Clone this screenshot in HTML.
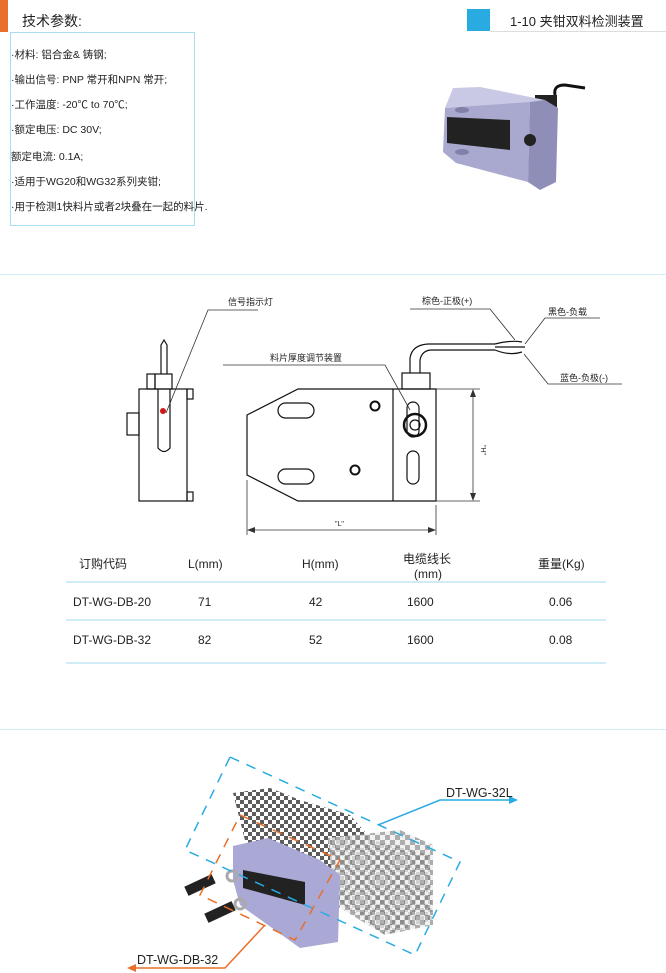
<!DOCTYPE html>
<html><head><meta charset="utf-8"><style>
html,body{margin:0;padding:0;background:#fff}
svg{display:block}
text{font-family:"Liberation Sans","Noto Sans CJK SC",sans-serif;fill:#222}
</style></head><body>
<svg width="666" height="973" viewBox="0 0 666 973" xmlns="http://www.w3.org/2000/svg">
<defs>
<pattern id="chk" width="8" height="8" patternUnits="userSpaceOnUse">
<rect width="8" height="8" fill="#fff"/><rect width="4" height="4" fill="#333"/><rect x="4" y="4" width="4" height="4" fill="#333"/>
</pattern>
<pattern id="chk2" width="10" height="10" patternUnits="userSpaceOnUse">
<rect width="10" height="10" fill="#eee"/><rect width="5" height="5" fill="#999"/><rect x="5" y="5" width="5" height="5" fill="#999"/>
</pattern>
</defs>
<!-- header -->
<rect x="0" y="0" width="8" height="32" fill="#e8702a"/>
<text x="22" y="26" font-size="14">技术参数:</text>
<rect x="10.5" y="32.5" width="184" height="193" fill="none" stroke="#a8dff0"/>
<g font-size="10.5">
<text x="11" y="58">·材料: 铝合金&amp; 铸钢;</text>
<text x="11" y="83">·输出信号: PNP 常开和NPN 常开;</text>
<text x="11" y="108">·工作温度: -20℃ to 70℃;</text>
<text x="11" y="133">·额定电压: DC 30V;</text>
<text x="11" y="160">额定电流: 0.1A;</text>
<text x="11" y="185">·适用于WG20和WG32系列夹钳;</text>
<text x="11" y="210">·用于检测1快料片或者2块叠在一起的料片.</text>
</g>
<rect x="467" y="9" width="23" height="22" fill="#29abe2"/>
<line x1="490" y1="31.5" x2="666" y2="31.5" stroke="#ddd"/>
<text x="510" y="26" font-size="13">1-10  夹钳双料检测装置</text>
<!-- photo -->
<path d="M555 95 Q553 85 565 85 L585 88" stroke="#111" stroke-width="3" fill="none"/>
<rect x="535" y="95" width="22" height="12" fill="#222"/>
<polygon points="453,88 480,87 545,100 530,104 445,108" fill="#c9c9e6"/>
<polygon points="445,108 530,102 528,182 456,163 443,152" fill="#a9a9d0"/>
<polygon points="530,102 545,100 558,108 556,182 540,190 528,182" fill="#8e8eb8"/>
<polygon points="447,117 510,120 510,150 447,143" fill="#222"/>
<circle cx="530" cy="140" r="6" fill="#222"/>
<ellipse cx="462" cy="110" rx="7" ry="3" fill="#8080a8"/>
<ellipse cx="462" cy="152" rx="7" ry="3" fill="#8080a8"/>
<line x1="0" y1="274.5" x2="666" y2="274.5" stroke="#cfeef8"/>
<!-- drawing -->
<g stroke="#111" fill="none" stroke-width="1.2">
<rect x="139" y="389" width="48" height="112"/>
<rect x="187" y="389" width="6" height="10"/>
<rect x="187" y="492" width="6" height="9"/>
<rect x="127" y="413" width="12" height="22"/>
<rect x="147" y="374" width="8" height="15"/>
<rect x="155" y="374" width="17" height="15"/>
<path d="M158 389 L158 448 Q164 455 170 448 L170 389"/>
<path d="M161 374 L161 345 L164 340 L167 345 L167 374"/>
<polygon points="247,415 298,389 436,389 436,501 298,501 247,475"/>
<line x1="393" y1="389" x2="393" y2="501"/>
<rect x="402" y="373" width="28" height="16"/>
<path d="M410 373 L410 358 Q412 345 428 344 L495 344 M420 373 L420 360 Q422 350 432 350 L495 350"/>
<rect x="278" y="403" width="36" height="15" rx="7.5"/>
<rect x="278" y="469" width="36" height="15" rx="7.5"/>
<rect x="407" y="402" width="12" height="35" rx="6"/>
<rect x="407" y="451" width="12" height="33" rx="6"/>
<circle cx="415" cy="425" r="11" stroke-width="2.5"/>
<circle cx="415" cy="425" r="5"/>
<circle cx="375" cy="406" r="4.5" stroke-width="2"/>
<circle cx="355" cy="470" r="4.5" stroke-width="2"/>
<path d="M495 344 Q510 340 522 342 M495 347 L525 347 M495 350 Q510 356 522 352"/>
</g>
<circle cx="163" cy="411" r="3" fill="#d01818"/>
<g stroke="#333" fill="none" stroke-width="0.8">
<path d="M258 310 L208 310 L166 413"/>
<path d="M223 365 L385 365 L410 410"/>
<path d="M410 309 L490 309 L515 340"/>
<path d="M600 318 L545 318 L525 344"/>
<path d="M622 384 L548 384 L524 354"/>
<line x1="436" y1="389" x2="480" y2="389"/>
<line x1="436" y1="501" x2="480" y2="501"/>
<line x1="473" y1="391" x2="473" y2="499"/>
<line x1="247" y1="480" x2="247" y2="535"/>
<line x1="436" y1="505" x2="436" y2="535"/>
<line x1="249" y1="530" x2="434" y2="530"/>
</g>
<g fill="#333">
<polygon points="473,389 470,397 476,397"/><polygon points="473,501 470,493 476,493"/>
<polygon points="247,530 255,527 255,533"/><polygon points="436,530 428,527 428,533"/>
</g>
<g font-size="9">
<text x="228" y="305">信号指示灯</text>
<text x="270" y="361">料片厚度调节装置</text>
<text x="422" y="304">棕色-正极(+)</text>
<text x="548" y="315">黑色-负载</text>
<text x="560" y="381">蓝色-负极(-)</text>
<text x="335" y="526" font-size="7">"L"</text>
<text x="481" y="445" font-size="7" transform="rotate(90 481 445)">"H"</text>
</g>
<!-- table -->
<g stroke="#bfe6f5" stroke-width="1.5">
<line x1="66" y1="582" x2="606" y2="582"/>
<line x1="66" y1="620" x2="606" y2="620"/>
<line x1="66" y1="663" x2="606" y2="663"/>
</g>
<g font-size="12">
<text x="79" y="568">订购代码</text>
<text x="188" y="568">L(mm)</text>
<text x="302" y="568">H(mm)</text>
<text x="403" y="563">电缆线长</text>
<text x="414" y="578">(mm)</text>
<text x="538" y="568">重量(Kg)</text>
<text x="73" y="606">DT-WG-DB-20</text><text x="198" y="606">71</text>
<text x="309" y="606">42</text><text x="407" y="606">1600</text><text x="549" y="606">0.06</text>
<text x="73" y="644">DT-WG-DB-32</text><text x="198" y="644">82</text><text x="309" y="644">52</text><text x="407" y="644">1600</text><text x="549" y="644">0.08</text>
</g>
<line x1="0" y1="729.5" x2="666" y2="729.5" stroke="#cfeef8"/>
<!-- exploded -->
<polygon points="233,793 270,788 300,800 350,815 372,840 430,855 432,920 385,935 330,895 250,860" fill="url(#chk)" opacity="0.8"/>
<polygon points="328,838 400,830 433,845 433,925 385,935 335,905" fill="url(#chk2)" opacity="0.8"/>
<polygon points="233,846 268,838 320,860 340,875 338,942 300,948 240,905 233,880" fill="#aaa8d4"/>
<polygon points="243,870 305,882 305,905 243,888" fill="#222"/>
<rect x="185" y="880" width="30" height="10" transform="rotate(-25 200 885)" fill="#222"/>
<rect x="205" y="907" width="30" height="10" transform="rotate(-25 220 912)" fill="#222"/>
<circle cx="232" cy="876" r="5" fill="none" stroke="#aaa" stroke-width="3"/>
<circle cx="240" cy="904" r="5" fill="none" stroke="#aaa" stroke-width="3"/>
<g fill="none" stroke-width="1.5" stroke-dasharray="10,8">
<polygon points="230,757 460,862 415,955 185,850" stroke="#29abe2"/>
<polygon points="240,815 340,860 295,940 200,895" stroke="#e8702a"/>
</g>
<path d="M378 825 L440 800 L510 800" stroke="#29abe2" stroke-width="1.5" fill="none"/>
<polygon points="518,800 509,796 509,804" fill="#29abe2"/>
<path d="M265 925 L225 968 L135 968" stroke="#e8702a" stroke-width="1.5" fill="none"/>
<polygon points="127,968 136,964 136,972" fill="#e8702a"/>
<text x="446" y="797" font-size="12.5">DT-WG-32L</text>
<text x="137" y="964" font-size="12.5">DT-WG-DB-32</text>
</svg>
</body></html>
